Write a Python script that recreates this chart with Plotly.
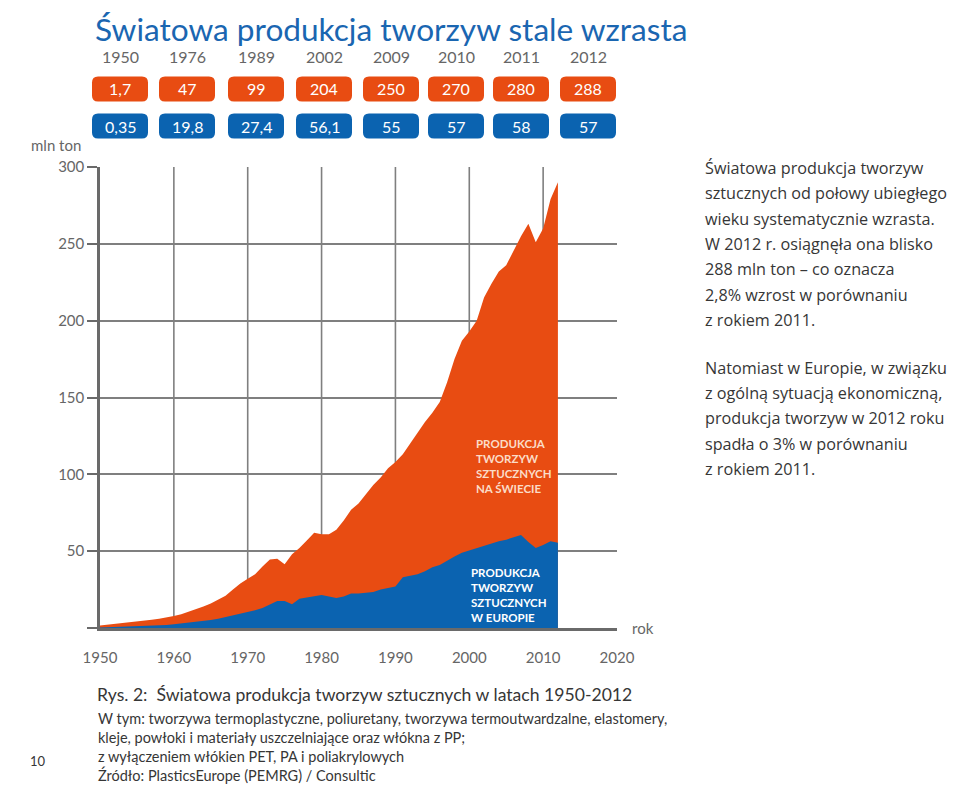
import plotly.graph_objects as go

# ---------------- data ----------------
years = list(range(1950, 2013))
world = [1.7, 2.2, 2.6, 3.0, 3.5, 4.0, 4.6, 5.3, 6.0, 6.8,
         7.8, 9.0, 10.5, 12.0, 14.0, 16.0, 18.5, 21.0, 25.0, 29.0,
         32.0, 35.0, 40.0, 44.5, 45.0, 41.5, 48.0, 52.0, 57.0, 62.0,
         61.0, 61.0, 64.0, 70.0, 77.0, 81.0, 87.0, 93.0, 98.0, 104.0,
         108.0, 113.0, 120.0, 127.0, 134.0, 140.0, 147.0, 160.0, 175.0, 187.0,
         193.0, 200.0, 215.0, 224.0, 232.0, 236.0, 246.0, 255.0, 263.0, 251.0,
         260.0, 279.0, 290.0]
europe = [0.35, 0.5, 0.6, 0.7, 0.8, 1.0, 1.2, 1.4, 1.7, 2.0,
          2.5, 3.0, 3.5, 4.0, 4.6, 5.2, 6.0, 7.0, 8.0, 9.0,
          10.0, 11.5, 13.0, 15.0, 17.5, 17.5, 15.5, 19.0, 20.0, 21.0,
          21.5, 20.5, 19.5, 20.5, 22.5, 22.5, 23.0, 23.5, 25.0, 26.0,
          27.0, 33.0, 34.0, 35.0, 37.0, 39.5, 41.0, 44.0, 46.5, 49.0,
          50.5, 52.0, 54.0, 55.0, 56.5, 57.5, 59.0, 60.5, 56.0, 52.0,
          54.0, 56.5, 55.5]

header_years = ["1950", "1976", "1989", "2002", "2009", "2010", "2011", "2012"]
header_world = ["1,7", "47", "99", "204", "250", "270", "280", "288"]
header_europe = ["0,35", "19,8", "27,4", "56,1", "55", "57", "58", "57"]

x_ticks = [1950, 1960, 1970, 1980, 1990, 2000, 2010, 2020]
x_grid = [1960, 1970, 1980, 1990, 2000, 2010]
y_ticks = [0, 50, 100, 150, 200, 250, 300]
y_ticktext = ["", "50", "100", "150", "200", "250", "300"]

title_text = "Światowa produkcja tworzyw stale wzrasta"
para1 = ["Światowa produkcja tworzyw",
         "sztucznych od połowy ubiegłego",
         "wieku systematycznie wzrasta.",
         "W 2012 r. osiągnęła ona blisko",
         "288 mln ton – co oznacza",
         "2,8% wzrost w porównaniu",
         "z rokiem 2011."]
para2 = ["Natomiast w Europie, w związku",
         "z ogólną sytuacją ekonomiczną,",
         "produkcja tworzyw w 2012 roku",
         "spadła o 3% w porównaniu",
         "z rokiem 2011."]
caption_main = "Rys. 2:  Światowa produkcja tworzyw sztucznych w latach 1950-2012"
caption_lines = ["W tym: tworzywa termoplastyczne, poliuretany, tworzywa termoutwardzalne, elastomery,",
                 "kleje, powłoki i materiały uszczelniające oraz włókna z PP;",
                 "z wyłączeniem włókien PET, PA i poliakrylowych",
                 "Źródło: PlasticsEurope (PEMRG) / Consultic"]
label_world = "PRODUKCJA<br>TWORZYW<br>SZTUCZNYCH<br>NA ŚWIECIE"
label_europe = "PRODUKCJA<br>TWORZYW<br>SZTUCZNYCH<br>W EUROPIE"

# ---------------- style ----------------
ORANGE = "#E84C12"
BLUE = "#0B63B0"
TITLE_BLUE = "#1A66B1"
GRID = "#7f7f7f"
AXIS = "#6a6a6a"
TXT = "#666666"
DARK = "#363636"
FONT = "Lato"

OFF = 8                      # page body margin
W, H = 960 - OFF, 785 - OFF  # figure size
L, R, T, B = 100, 617, 167, 628  # plot area in page pixels


def px(x):
    return (x - L) / (R - L)


def py(y):
    return (B - y) / (B - T)


fig = go.Figure()
fig.add_trace(go.Scatter(x=years, y=world, mode="lines", fill="tozeroy",
                         line=dict(width=0, color=ORANGE), fillcolor=ORANGE,
                         hoverinfo="skip", showlegend=False))
fig.add_trace(go.Scatter(x=years, y=europe, mode="lines", fill="tozeroy",
                         line=dict(width=0, color=BLUE), fillcolor=BLUE,
                         hoverinfo="skip", showlegend=False))

shapes = []
for g in x_grid:
    shapes.append(dict(type="line", xref="x", yref="y", x0=g, x1=g, y0=0, y1=300,
                       line=dict(color=GRID, width=1.6), layer="below"))


def rounded(cx, cy, w, h, r, color):
    x0, x1 = px(cx - w / 2), px(cx + w / 2)
    y0, y1 = py(cy + h / 2), py(cy - h / 2)
    rx = r / (R - L)
    ry = r / (B - T)
    path = (f"M {x0 + rx},{y0} L {x1 - rx},{y0} Q {x1},{y0} {x1},{y0 + ry} "
            f"L {x1},{y1 - ry} Q {x1},{y1} {x1 - rx},{y1} "
            f"L {x0 + rx},{y1} Q {x0},{y1} {x0},{y1 - ry} "
            f"L {x0},{y0 + ry} Q {x0},{y0} {x0 + rx},{y0} Z")
    return dict(type="path", xref="paper", yref="paper", path=path,
                fillcolor=color, line=dict(width=0), layer="above")


annotations = []


def ann(text, x, y, size, color, xanchor="left", family=FONT):
    annotations.append(dict(text=text, x=px(x), y=py(y), xref="paper", yref="paper",
                            xanchor=xanchor, yanchor="middle", showarrow=False,
                            align="left" if xanchor == "left" else "center",
                            font=dict(family=family, size=size, color=color)))


pill_cx = [120, 187, 256, 324, 391, 456, 521, 588]
for i, cx in enumerate(pill_cx):
    shapes.append(rounded(cx, 89, 56, 25, 6, ORANGE))
    shapes.append(rounded(cx, 126, 56, 25, 6, BLUE))
    ann(header_years[i], cx, 56, 16, TXT, xanchor="center")
    ann(header_world[i], cx, 89, 16, "white", xanchor="center")
    ann(header_europe[i], cx, 126, 16, "white", xanchor="center")

ann(title_text, 93, 28.5, 31.6, TITLE_BLUE)
ann("mln ton", 29, 145, 15, TXT)
ann("rok", 630, 628, 15, TXT)

for i, line in enumerate(para1):
    ann(line, 703, 168 + i * 25.3, 16.2, DARK, family="Open Sans")
for i, line in enumerate(para2):
    ann(line, 703, 368 + i * 25.2, 16.2, DARK, family="Open Sans")

ann(caption_main, 95, 694, 17.6, DARK)
for i, line in enumerate(caption_lines):
    ann(line, 96, 718 + i * 19, 14.5, DARK)
ann("10", 28, 761, 13, DARK)

annotations.append(dict(text="<b>" + label_world + "</b>", x=2000.7, y=(628 - 466) / 1.537,
                        xref="x", yref="y", xanchor="left", yanchor="middle", align="left",
                        showarrow=False,
                        font=dict(family=FONT, size=11.5, color="#FBDCC8")))
annotations.append(dict(text="<b>" + label_europe + "</b>", x=2000.0, y=(628 - 595) / 1.537,
                        xref="x", yref="y", xanchor="left", yanchor="middle", align="left",
                        showarrow=False,
                        font=dict(family=FONT, size=11.5, color="white")))

fig.update_layout(
    width=W, height=H, autosize=False,
    margin=dict(l=L - OFF, r=W - (R - OFF), t=T - OFF, b=H - (B - OFF), pad=0),
    plot_bgcolor="white", paper_bgcolor="white",
    shapes=shapes, annotations=annotations,
    font=dict(family=FONT),
    xaxis=dict(range=[1950, 2020], tickvals=x_ticks, showgrid=False, zeroline=False,
               showline=True, linecolor=AXIS, linewidth=2.5,
               ticks="outside", ticklen=14, tickcolor="rgba(0,0,0,0)",
               tickfont=dict(family=FONT, size=15, color=TXT), fixedrange=True),
    yaxis=dict(range=[0, 300], tickvals=y_ticks, ticktext=y_ticktext,
               showgrid=True, gridcolor=GRID, gridwidth=1.6, zeroline=False,
               showline=True, linecolor=AXIS, linewidth=2.5,
               ticks="outside", ticklen=10, tickcolor=AXIS, tickwidth=1.6,
               tickfont=dict(family=FONT, size=15, color=TXT), fixedrange=True),
)

fig.write_html("out.html")
